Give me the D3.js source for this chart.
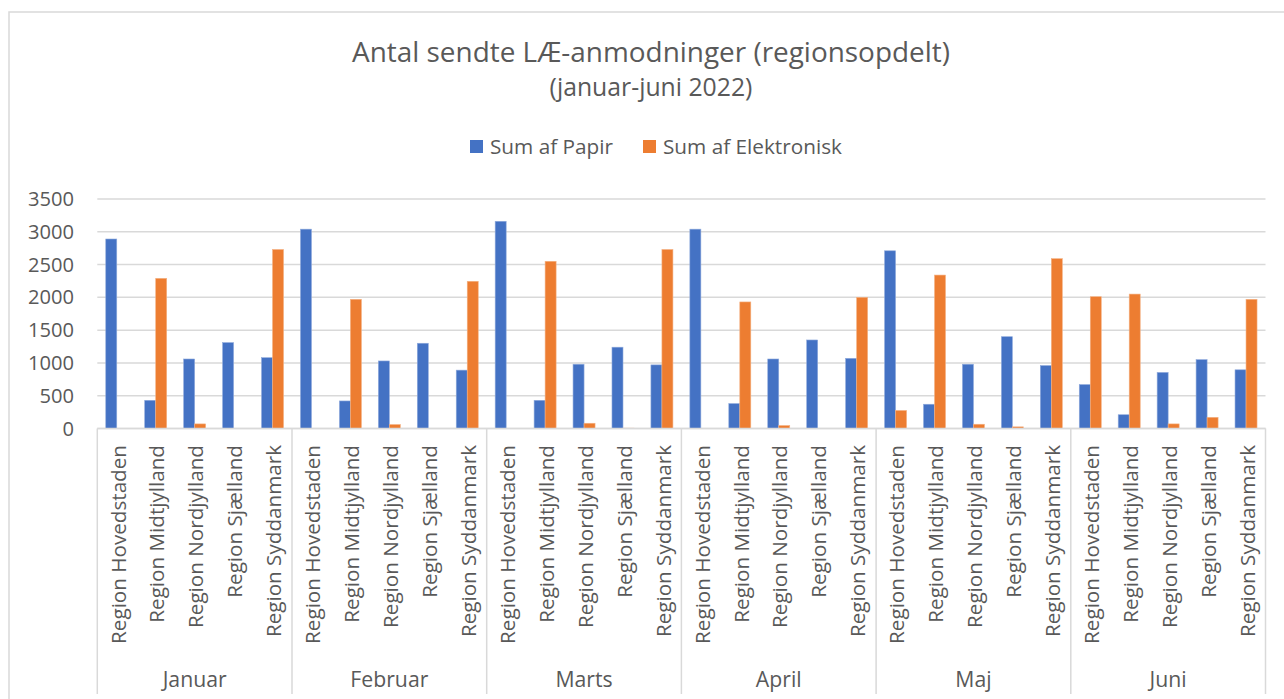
<!DOCTYPE html>
<html><head><meta charset="utf-8">
<script src="https://cdn.jsdelivr.net/npm/d3@7"></script>
<style>html,body{margin:0;padding:0;background:#fff;} svg{display:block;}</style>
</head><body>
<svg id="c" width="1284" height="699"></svg>
<script>
const months = ["Januar","Februar","Marts","April","Maj","Juni"];
const regions = ["Region Hovedstaden","Region Midtjylland","Region Nordjylland","Region Sjælland","Region Syddanmark"];
const seriesNames = ["Sum af Papir","Sum af Elektronisk"];
// values per month, in region order
const papir = [
  [2890, 430, 1060, 1310, 1080],
  [3040, 420, 1030, 1300, 890],
  [3160, 430, 980, 1240, 970],
  [3040, 380, 1060, 1350, 1070],
  [2710, 370, 980, 1400, 960],
  [670, 210, 855, 1050, 895]
];
const elektronisk = [
  [0, 2290, 70, 0, 2730],
  [0, 1970, 60, 0, 2245],
  [0, 2550, 80, 5, 2730],
  [0, 1930, 45, 0, 2000],
  [275, 2340, 65, 25, 2590],
  [2010, 2050, 70, 170, 1970]
];
const yTicks = [0,500,1000,1500,2000,2500,3000,3500];

const rows = [];
months.forEach((m,mi)=>regions.forEach((r,ri)=>rows.push({key:m+"|"+r, month:m, region:r, vals:[papir[mi][ri], elektronisk[mi][ri]]})));

const svg = d3.select("#c");
const font = "'Open Sans', sans-serif";
const grey = "#595959";
const colors = ["#4472C4","#ED7D31"];
const L=97.3, R=1265.5, T=199, B=428.5;

// scale a text selection's font size so that a reference string hits a target width
function fitSize(sel, sample, target, base){
  const t = svg.append("text").attr("font-family",font).attr("font-size",base).text(sample);
  const w = t.node().getComputedTextLength(); t.remove();
  const fs = base*target/w;
  sel.attr("font-size",fs);
  return fs;
}

// outer frame
svg.append("rect").attr("x",9).attr("y",12).attr("width",1300).attr("height",720)
  .attr("fill","none").attr("stroke","#d9d9d9").attr("stroke-width",1.5);

const x = d3.scaleBand().domain(rows.map(d=>d.key)).range([L,R]).paddingInner(0).paddingOuter(0);
const x1 = d3.scaleBand().domain([0,1]).range([0,x.bandwidth()]).paddingInner(0).paddingOuter(0.77);
const y = d3.scaleLinear().domain([0,3500]).range([B,T]);

// gridlines
svg.append("g").selectAll("line").data(yTicks).join("line")
  .attr("x1",L).attr("x2",R).attr("y1",d=>y(d)).attr("y2",d=>y(d))
  .attr("stroke","#d9d9d9").attr("stroke-width",1.5);

// y labels
const yl = svg.append("g").selectAll("text").data(yTicks).join("text")
  .attr("x",74).attr("y",d=>y(d)).attr("dy","0.35em").attr("text-anchor","end")
  .attr("font-family",font).attr("fill",grey).text(d=>d);
fitSize(yl,"3500",46,18);

// bars
const g = svg.append("g");
rows.forEach(r=>{
  r.vals.forEach((v,i)=>{
    if(v<=0) return;
    g.append("rect").attr("x",x(r.key)+x1(i)).attr("width",x1.bandwidth())
      .attr("y",y(v)).attr("height",y(0)-y(v)).attr("fill",colors[i])
      .attr("stroke", i===0?"#8faadc":"#f4b183").attr("stroke-width",0.6);
  });
});

// x axis baseline
svg.append("line").attr("x1",L).attr("x2",R).attr("y1",B).attr("y2",B).attr("stroke","#d9d9d9").attr("stroke-width",1.5);

// month separators
const monthStarts = months.map(m=>x(m+"|"+regions[0]));
const bounds = monthStarts.concat([R]);
svg.append("g").selectAll("line").data(bounds).join("line")
  .attr("x1",d=>d).attr("x2",d=>d).attr("y1",B).attr("y2",694)
  .attr("stroke","#d9d9d9").attr("stroke-width",1.5);

// category labels (rotated)
const cat = svg.append("g").selectAll("text").data(rows).join("text")
  .attr("transform",d=>`translate(${x(d.key)+x.bandwidth()/2+1.5},445) rotate(-90)`)
  .attr("text-anchor","end").attr("dy","0.35em").attr("font-family",font)
  .attr("fill",grey).text(d=>d.region);
fitSize(cat,"Region Hovedstaden",199,18);

// month labels
const ml = svg.append("g").selectAll("text").data(months).join("text")
  .attr("x",(d,i)=>(bounds[i]+bounds[i+1])/2).attr("y",687).attr("text-anchor","middle")
  .attr("font-family",font).attr("fill",grey).text(d=>d);
fitSize(ml,"Januar",64,18);

// title
const t1 = svg.append("text").attr("x",651).attr("y",62).attr("text-anchor","middle")
  .attr("font-family",font).attr("fill",grey)
  .text("Antal sendte LÆ-anmodninger (regionsopdelt)");
fitSize(t1,"Antal sendte LÆ-anmodninger (regionsopdelt)",598,25);
const t2 = svg.append("text").attr("x",651).attr("y",96).attr("text-anchor","middle")
  .attr("font-family",font).attr("fill",grey)
  .text("(januar-juni 2022)");
fitSize(t2,"(januar-juni 2022)",203,19);

// legend
const legX = [470, 643];
const leg = svg.append("g").selectAll("g").data(seriesNames).join("g")
  .attr("transform",(d,i)=>`translate(${legX[i]},140)`);
leg.append("rect").attr("width",13).attr("height",13).attr("fill",(d,i)=>colors[i]);
const lt = leg.append("text").attr("x",20).attr("y",6.5).attr("dy","0.35em")
  .attr("font-family",font).attr("fill",grey).text(d=>d);
fitSize(lt,"Sum af Elektronisk",179,18);
</script>
</body></html>
